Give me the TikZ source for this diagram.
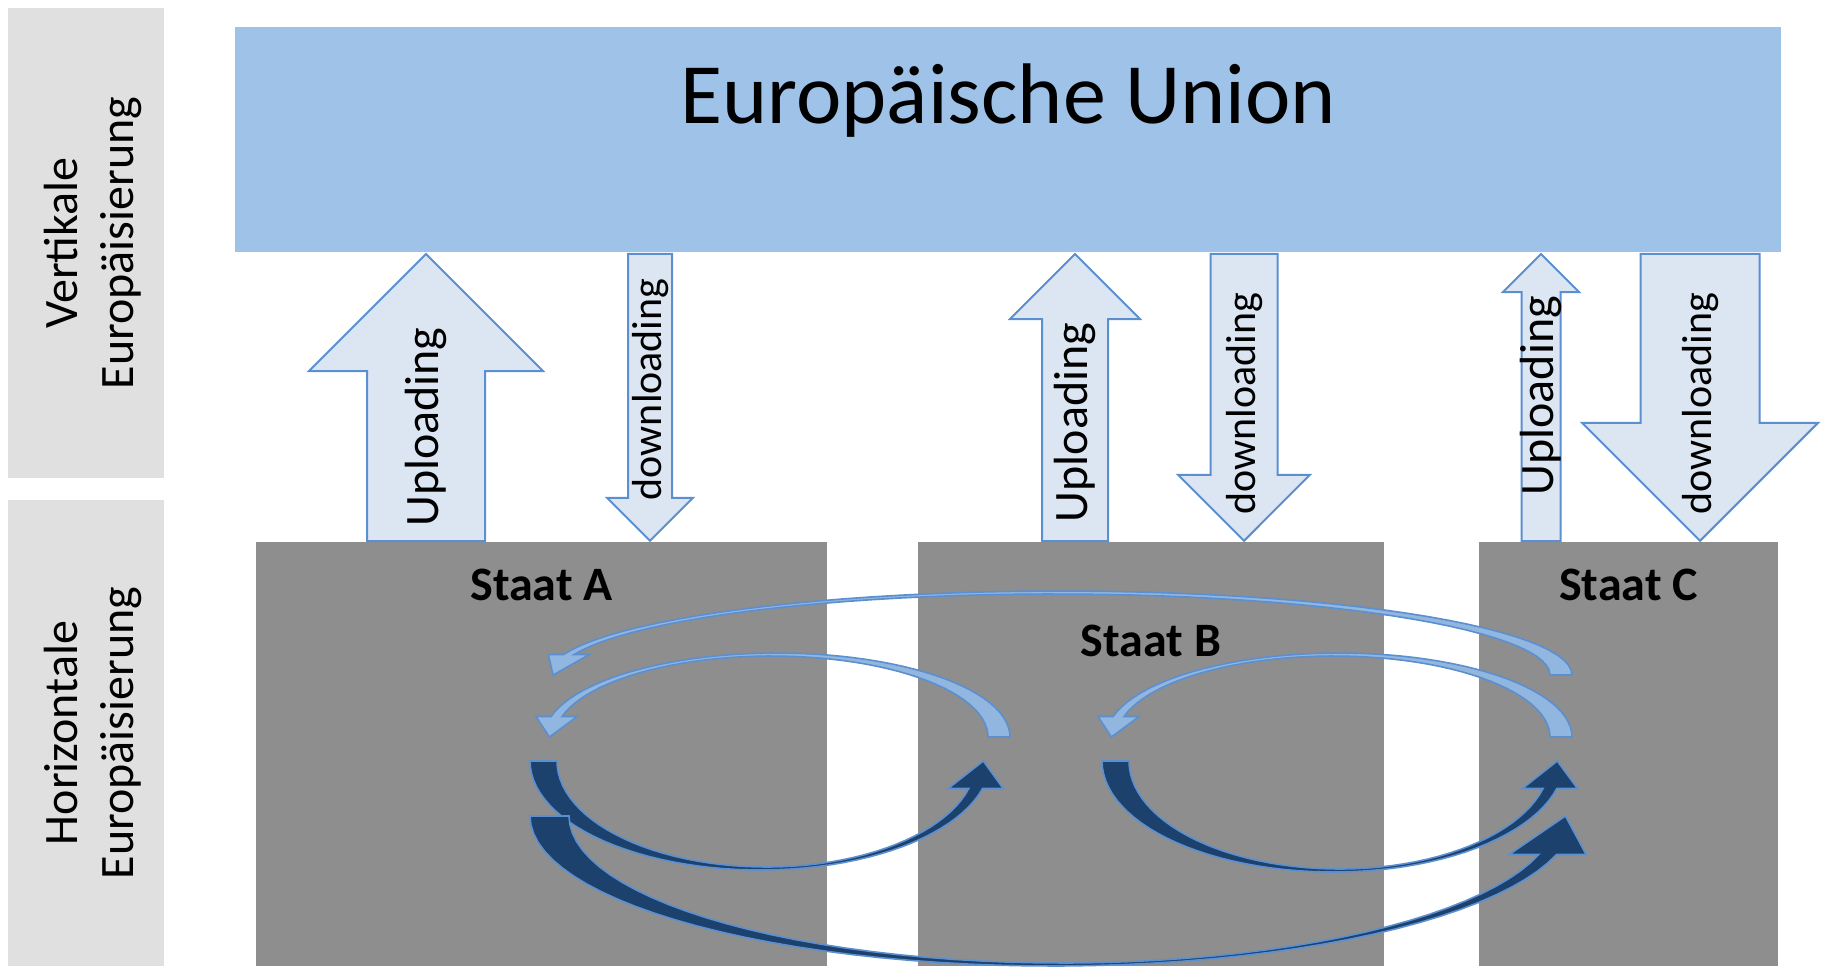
\documentclass[tikz,border=0pt]{standalone}
\usepackage{fontspec}
\setmainfont{Carlito}
\usetikzlibrary{shapes.arrows,positioning}

\definecolor{eublue}{HTML}{9FC2E8}
\definecolor{sidegray}{HTML}{E0E0E0}
\definecolor{stategray}{HTML}{8E8E8E}
\definecolor{arrowfill}{HTML}{DCE6F2}
\definecolor{arrowline}{HTML}{5B8FD0}
\definecolor{lightcurve}{HTML}{91B7E0}
\definecolor{darkcurve}{HTML}{1B416C}

\tikzset{
  sidebox/.style={fill=sidegray, minimum width=78pt, inner sep=0pt},
  sidetext/.style={rotate=90, align=center, inner sep=0pt, font=\fontsize{24}{28}\selectfont},
  statebox/.style={fill=stategray, anchor=north west, minimum height=212pt,
    inner sep=0pt, outer sep=0pt},
  statename/.style={font=\fontsize{24}{28}\selectfont\bfseries, anchor=base, inner sep=0pt},
  blockarrow/.style={single arrow, single arrow tip angle=90, draw=arrowline,
    fill=arrowfill, line width=1pt, rotate=90, anchor=tail, inner xsep=0pt,
    minimum height=143.5pt},
  upload/.style={blockarrow, font=\fontsize{24}{28}\selectfont, text height=17pt,
    text depth=5pt, inner ysep={(#1-22pt)/2}, single arrow head extend={#1/2}},
  download/.style={blockarrow, shape border rotate=180, font=\fontsize{21}{25}\selectfont,
    text height=15pt, text depth=4pt, inner ysep={(#1-19pt)/2},
    single arrow head extend={#1/2}},
  curvelight/.style={fill=lightcurve, draw=arrowline, line width=0.8pt},
  curvedark/.style={fill=darkcurve, draw=arrowline, line width=0.8pt},
}

% moves the text of an arrow down the page without changing its box
\newcommand{\textslide}[2]{\hspace*{-#1}#2\hspace*{#1}}

% curved block arrow: style, centre, rotation, x radius, y radius,
% shrink of inner radius, shift of inner centre, half head width
\newcommand{\crescentarrow}[8]{%
  \begin{scope}[shift={#2}, yscale=-1, rotate=#3]
    \pgfmathsetmacro\angO{180-asin(#8/#5)}
    \pgfmathsetmacro\angI{180-asin(#8/(#5-3))}
    \pgfmathsetmacro\xO{#4*cos(\angO)}
    \pgfmathsetmacro\xI{-#7+(#4-#6)*cos(\angI)}
    \pgfmathsetmacro\xM{(\xO+\xI)/2}
    \pgfmathsetmacro\xT{\xM-0.5*#8*#4*sin(\angO)/(#5*abs(cos(\angO)))}
    \filldraw[#1] (#4,0)
      -- plot[domain=0:\angO, samples=50] ({#4*cos(\x)},{#5*sin(\x)})
      -- (\xM-#8,#8) -- (\xT,0) -- (\xM+#8,#8)
      -- plot[domain=\angI:0, samples=50] ({-#7+(#4-#6)*cos(\x)},{(#5-3)*sin(\x)})
      -- cycle;
  \end{scope}}

\begin{document}
\begin{tikzpicture}[x=0.5pt, y=-0.5pt]
\useasboundingbox (0,0) rectangle (1824,966);

% side labels
\node[sidebox, minimum height=235pt] (vert) at (86,243) {};
\node[sidebox, minimum height=233pt] (horiz) at (86,733) {};
\node[sidetext] (verttext) at ([xshift=3.5pt]vert.center) {Vertikale\\Europäisierung};
\node[sidetext] (horiztext) at ([xshift=3.5pt]horiz.center) {Horizontale\\Europäisierung};

% union
\node[fill=eublue, minimum width=773pt, minimum height=112.5pt, inner sep=0pt,
  anchor=north west] (eu) at (235,27) {};
\node[font=\fontsize{43}{52}\selectfont, anchor=base, inner sep=0pt] (euname)
  at ([yshift=-48pt]eu.north) {Europäische Union};

% member states
\node[statebox, minimum width=285.5pt] (staatA) at (256,542) {};
\node[statebox, minimum width=233pt, right=45.5pt of staatA] (staatB) {};
\node[statebox, minimum width=149.5pt, right=47.5pt of staatB] (staatC) {};

% horizontal exchange
\crescentarrow{curvelight}{(1060,675)}{0}{512}{84}{16}{6}{20.5}
\crescentarrow{curvelight}{(777,737)}{0}{233}{84}{16.5}{5.5}{20.5}
\crescentarrow{curvelight}{(1339,737)}{0}{233}{84}{16.5}{5.5}{20.5}
\crescentarrow{curvedark}{(760,761)}{180}{230}{109}{20.5}{6.5}{27.5}
\crescentarrow{curvedark}{(1333,761)}{180}{231}{111}{20.5}{6.5}{27.5}
\crescentarrow{curvedark}{(1052,816)}{180}{522}{150}{28.5}{10.5}{38.5}

% vertical exchange
\node[upload=58pt] (upA) at (426,0 |- staatA.north) {Uploading};
\node[download=21pt] (downA) at (650,0 |- eu.south) {\textslide{1.5pt}{downloading}};
\node[upload=32pt] (upB) at (1075,0 |- staatB.north) {\textslide{4.25pt}{Uploading}};
\node[download=32.5pt] (downB) at (1244,0 |- eu.south) {\textslide{11.5pt}{downloading}};
\node[upload=18.5pt] (upC) at (1541,0 |- staatC.north) {\textslide{-5.75pt}{Uploading}};
\node[download=58.5pt] (downC) at (1700,0 |- eu.south) {\textslide{18pt}{downloading}};

\node[statename] (nameA) at ([yshift=-29.25pt]staatA.north) {Staat A};
\node[statename] (nameB) at ([yshift=-57.25pt]staatB.north) {Staat B};
\node[statename] (nameC) at ([yshift=-29.25pt]staatC.north) {Staat C};
\end{tikzpicture}
\end{document}
